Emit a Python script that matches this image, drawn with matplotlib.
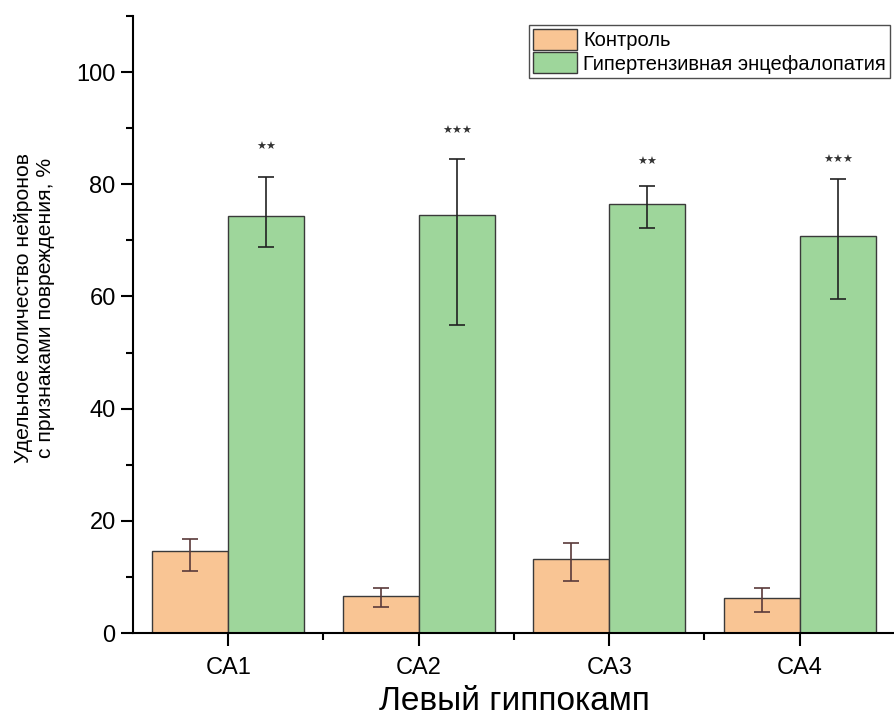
import numpy as np
import matplotlib
matplotlib.use("Agg")
import matplotlib.pyplot as plt
from matplotlib.ticker import MultipleLocator, FixedLocator

plt.rcParams['font.family'] = ['Liberation Sans', 'DejaVu Sans']

regions = ['CA1', 'CA2', 'CA3', 'CA4']
control = [14.7, 6.6, 13.2, 6.3]
control_lo = [11.0, 4.6, 9.3, 3.8]
control_hi = [16.8, 8.1, 16.0, 8.1]
hyper = [74.4, 74.6, 76.5, 70.8]
hyper_lo = [68.9, 54.9, 72.2, 59.6]
hyper_hi = [81.3, 84.5, 79.7, 80.9]
stars = ['★★', '★★★', '★★', '★★★']
star_y = [86.7, 89.5, 84.0, 84.3]

x = np.arange(1, len(regions) + 1)
w = 0.4

fig = plt.figure(figsize=(8.95, 7.26), dpi=100)
ax = fig.add_axes([0.1486, 0.128, 0.8514, 0.850])

c_err = [np.array(control) - np.array(control_lo), np.array(control_hi) - np.array(control)]
h_err = [np.array(hyper) - np.array(hyper_lo), np.array(hyper_hi) - np.array(hyper)]

ax.bar(x - w / 2, control, w, color='#f9c594', edgecolor='#3a3a3a', linewidth=1.0,
       label='Контроль', zorder=2)
ax.bar(x + w / 2, hyper, w, color='#9ed69b', edgecolor='#3a3a3a', linewidth=1.0,
       label='Гипертензивная энцефалопатия', zorder=2)
ax.errorbar(x - w / 2, control, yerr=c_err, fmt='none', ecolor='#5a3a3a',
            elinewidth=1.2, capsize=5.5, capthick=1.2, zorder=3)
ax.errorbar(x + w / 2, hyper, yerr=h_err, fmt='none', ecolor='#222222',
            elinewidth=1.2, capsize=5.5, capthick=1.2, zorder=3)

for xi, s, sy in zip(x, stars, star_y):
    ax.text(xi + w / 2, sy, s, ha='center', va='center', fontsize=8, color='#333333',
            family='DejaVu Sans')

ax.set_xlim(0.5, 4.5)
ax.set_ylim(0, 110)
ax.set_xticks(x)
ax.set_xticklabels(regions)
ax.xaxis.set_minor_locator(FixedLocator([1.5, 2.5, 3.5]))
ax.set_yticks([0, 20, 40, 60, 80, 100])
ax.yaxis.set_minor_locator(MultipleLocator(10))
ax.tick_params(axis='both', which='major', labelsize=17, length=9, width=1.5, direction='out')
ax.tick_params(axis='x', which='major', pad=8)
ax.tick_params(axis='both', which='minor', length=5, width=1.5, direction='out')

for side in ['top', 'right']:
    ax.spines[side].set_visible(False)
for side in ['left', 'bottom']:
    ax.spines[side].set_linewidth(1.5)

ax.set_xlabel('Левый гиппокамп', fontsize=24, labelpad=5)
ax.set_ylabel('Удельное количество нейронов\nс признаками повреждения, %', fontsize=15.2)
ax.yaxis.set_label_coords(-0.103, 0.527)

leg = ax.legend(loc='upper right', bbox_to_anchor=(0.993, 0.985), fontsize=14.5, frameon=True,
                fancybox=False, edgecolor='#222222', handlelength=2.2, handleheight=1.2,
                handletextpad=0.3, borderpad=0.2, labelspacing=0.1, borderaxespad=0)
leg.get_frame().set_linewidth(1.0)

fig.savefig('out.png', dpi=100)
